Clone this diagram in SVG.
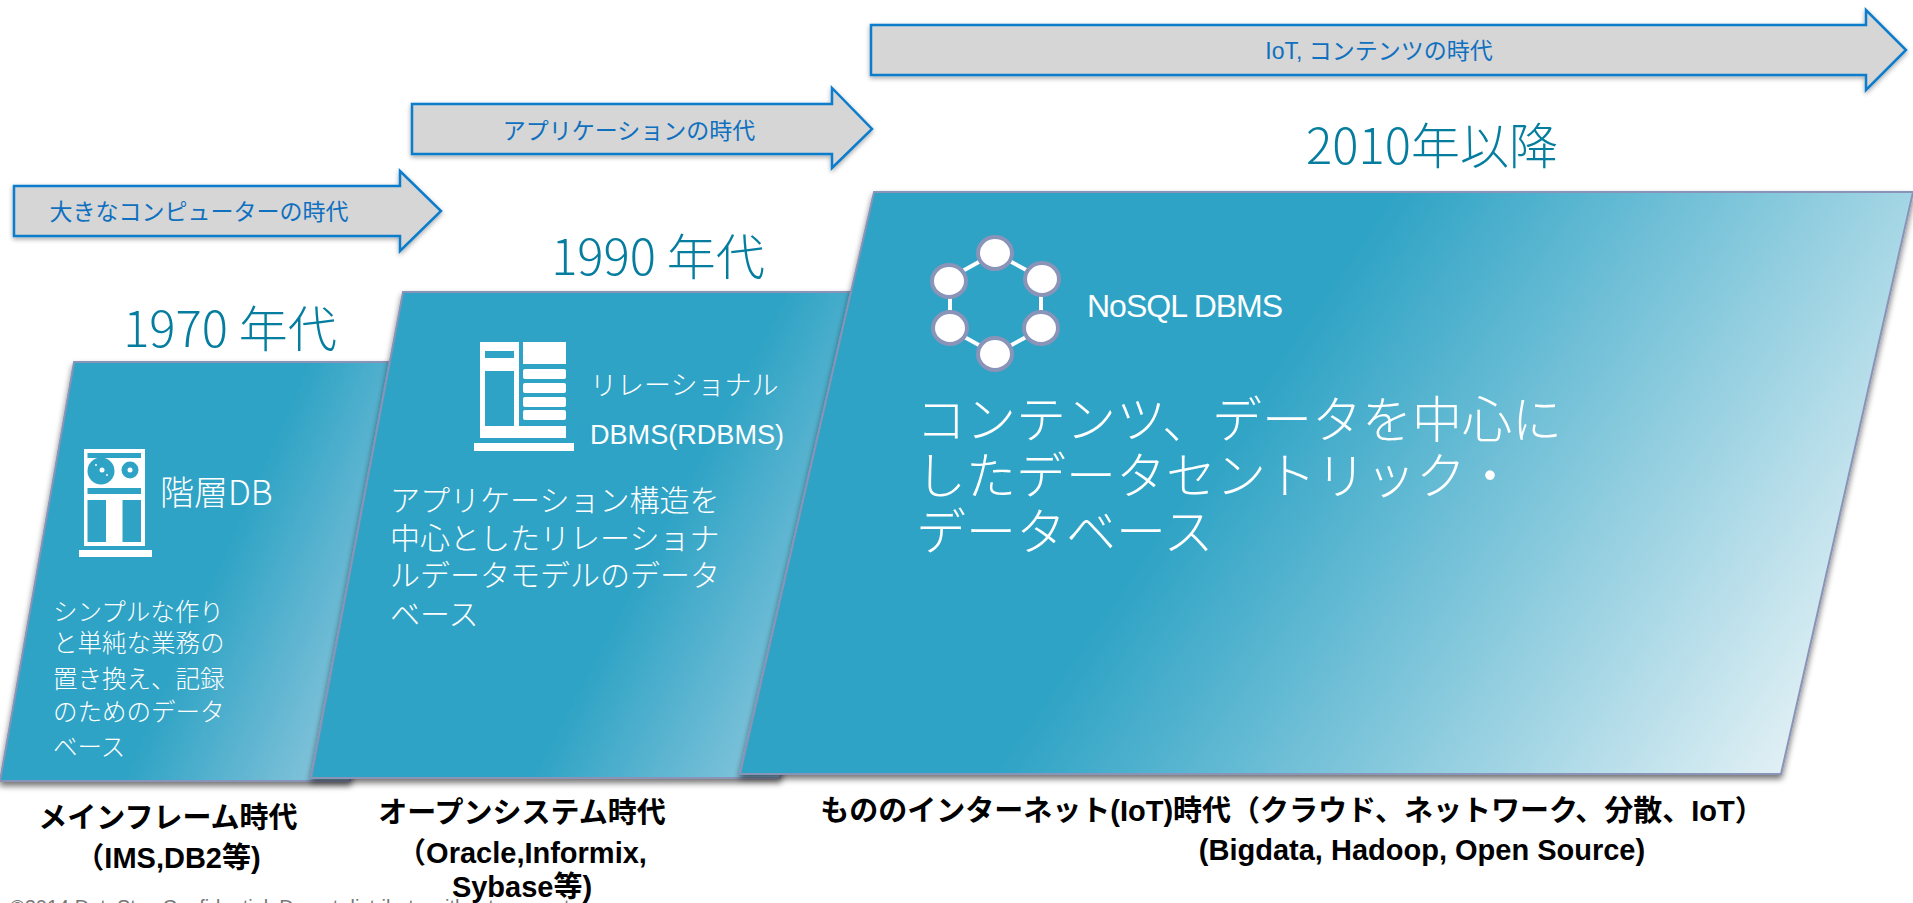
<svg xmlns="http://www.w3.org/2000/svg" width="1913" height="903" viewBox="0 0 1913 903">
<style>
text{font-family:"Liberation Sans","Noto Sans CJK JP",sans-serif}
.w{fill:#fff}
.yr{fill:#057d9f;font-size:49px;text-anchor:middle;font-weight:300;font-family:"Noto Sans CJK JP","Liberation Sans",sans-serif}
.panel{stroke:#8a93b8;stroke-width:2}
.arrow{fill:#d6d6d6;stroke:#0a7bcb;stroke-width:2.5;filter:url(#sh)}
.al{fill:#0f70c0;font-size:23px;text-anchor:middle}
.t{fill:#fff;font-weight:300;font-family:"Noto Sans CJK JP","Liberation Sans",sans-serif}
.cap{fill:#000;font-weight:700;font-size:29px;text-anchor:middle}
.nd{fill:#fff;stroke:#8a93b8;stroke-width:4}
</style>
<defs>
<filter id="sh" x="-5%" y="-20%" width="110%" height="140%"><feGaussianBlur in="SourceAlpha" stdDeviation="2.5"/><feOffset dx="0" dy="2"/><feComponentTransfer><feFuncA type="linear" slope="0.35"/></feComponentTransfer><feMerge><feMergeNode/><feMergeNode in="SourceGraphic"/></feMerge></filter>
<filter id="ps" x="-5%" y="-5%" width="110%" height="110%"><feGaussianBlur in="SourceAlpha" stdDeviation="3"/><feOffset dx="0" dy="4"/><feComponentTransfer><feFuncA type="linear" slope="0.55"/></feComponentTransfer><feMerge><feMergeNode/><feMergeNode in="SourceGraphic"/></feMerge></filter>
<linearGradient id="g1" gradientUnits="userSpaceOnUse" x1="220" y1="560" x2="400" y2="640"><stop offset="0" stop-color="#2ea3c5"/><stop offset="1" stop-color="#8cc6dc"/></linearGradient>
<linearGradient id="g2" gradientUnits="userSpaceOnUse" x1="640" y1="570" x2="850" y2="680"><stop offset="0" stop-color="#2ea3c5"/><stop offset="1" stop-color="#93cadf"/></linearGradient>
<linearGradient id="g3" gradientUnits="userSpaceOnUse" x1="1250" y1="400" x2="1800" y2="780"><stop offset="0" stop-color="#2ea3c5"/><stop offset="1" stop-color="#e6f2f6"/></linearGradient>
</defs>

<g id="panel-1970"><path class="panel" fill="url(#g1)" filter="url(#ps)" d="M74 362H440L350 781H0Z"/></g>
<g id="panel-1990"><path class="panel" fill="url(#g2)" filter="url(#ps)" d="M403 292H880L780 778H311Z"/></g>
<g id="panel-2010"><path class="panel" fill="url(#g3)" filter="url(#ps)" d="M874 192H1913L1781 774H740Z"/></g>

<g id="arrow-1"><path class="arrow" d="M14 186H400V171L441 211 400 251V236H14Z"/><text class="al" x="199" y="220">大きなコンピューターの時代</text></g>
<g id="arrow-2"><path class="arrow" d="M412 104H832V88L872 129 832 168V154H412Z"/><text class="al" x="629" y="139">アプリケーションの時代</text></g>
<g id="arrow-3"><path class="arrow" d="M871 25H1866V10L1906 50 1866 90V75H871Z"/><text class="al" x="1379" y="59">IoT, コンテンツの時代</text></g>

<text class="yr" x="230" y="347">1970 年代</text>
<text class="yr" x="658" y="275">1990 年代</text>
<text class="yr" x="1432" y="164">2010年以降</text>

<g id="icon-hier" fill="#fff">
<path fill-rule="evenodd" d="M84 449H145V546H84ZM87.500 453V458H141V453ZM87.500 488V494H141V488ZM87.500 500V542H106V500ZM122.500 500V542H141V500Z"/>
<circle cx="101" cy="471" r="13.500" fill="#2ea3c5"/><circle cx="130" cy="470" r="8.500" fill="#2ea3c5"/>
<circle cx="102" cy="470" r="2.500"/><circle cx="130" cy="470" r="2.500"/><circle cx="96" cy="465" r="1"/><circle cx="107" cy="475" r="1"/>
<rect x="79" y="550" width="73" height="7"/>
</g>
<text class="t" x="160" y="505" font-size="34">階層DB</text>
<g class="t" font-size="24.500">
<text x="53" y="621">シンプルな作り</text><text x="53" y="652">と単純な業務の</text><text x="53" y="688">置き換え、記録</text><text x="53" y="721">のためのデータ</text><text x="53" y="756">ベース</text>
</g>

<g id="icon-rdb" fill="#fff">
<path fill-rule="evenodd" d="M480 342H519V438H480ZM485 351V358H514V351ZM485 371V426H514V371Z"/>
<circle cx="488" cy="365" r="3.300" fill="#fff"/>
<rect x="523" y="342" width="43" height="22"/>
<rect x="523" y="369" width="43" height="10" rx="2"/><rect x="523" y="383" width="43" height="10" rx="2"/><rect x="523" y="397" width="43" height="10" rx="2"/><rect x="523" y="410" width="43" height="10" rx="2"/>
<rect x="519" y="426" width="47" height="12"/>
<rect x="474" y="443" width="100" height="8"/>
</g>
<text class="t" x="590" y="395" font-size="27">リレーショナル</text>
<text class="t" x="590" y="444" font-size="27" textLength="194" lengthAdjust="spacingAndGlyphs" style="font-family:'Liberation Sans',sans-serif">DBMS(RDBMS)</text>
<g class="t" font-size="30">
<text x="390" y="511">アプリケーション構造を</text><text x="390" y="549">中心としたリレーショナ</text><text x="390" y="586">ルデータモデルのデータ</text><text x="390" y="625">ベース</text>
</g>

<g id="icon-nosql" stroke="#fff" stroke-width="4" fill="none">
<path d="M995 253L1041 278V329L995 354 950 329V278Z"/>
<g class="nd"><ellipse cx="995" cy="253" rx="17" ry="16"/><ellipse cx="1042" cy="279" rx="17" ry="16"/><ellipse cx="1041" cy="328" rx="17" ry="16"/><ellipse cx="995" cy="354" rx="17" ry="16"/><ellipse cx="950" cy="328" rx="17" ry="16"/><ellipse cx="949" cy="281" rx="17" ry="16"/></g>
</g>
<text class="t" x="1087" y="317" font-size="32" letter-spacing="-1" style="font-family:'Liberation Sans',sans-serif">NoSQL DBMS</text>
<g class="t" font-size="50">
<text x="916" y="438">コンテンツ、データを中心に</text><text x="916" y="494">したデータセントリック・</text><text x="916" y="550">データベース</text>
</g>

<g class="cap">
<text x="168" y="828">メインフレーム時代</text><text x="168" y="868">（IMS,DB2等)</text>
<text x="522" y="823">オープンシステム時代</text><text x="522" y="863">（Oracle,Informix,</text><text x="522" y="897">Sybase等)</text>
<text x="1292" y="821">もののインターネット(IoT)時代（クラウド、ネットワーク、分散、IoT）</text>
<text x="1422" y="860">(Bigdata, Hadoop, Open Source)</text>
</g>
<text x="10" y="914" font-size="20" fill="#777">©2014 DataStax Confidential. Do not distribute without consent.</text>
</svg>
